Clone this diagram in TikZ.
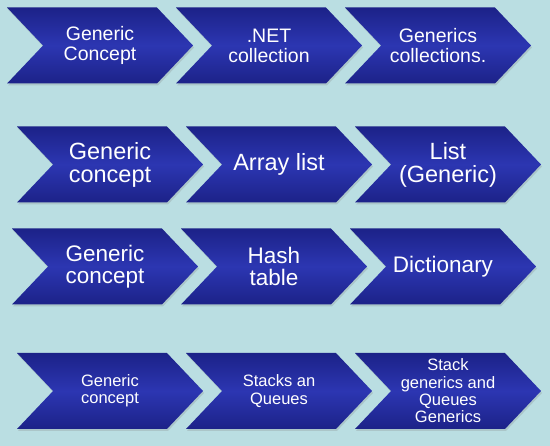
\documentclass[tikz,border=0pt]{standalone}
\usepackage{fontspec}
\setmainfont{Liberation Sans}
\usetikzlibrary{shapes.symbols,shadows}

\definecolor{bgcyan}{RGB}{186,222,226}
\definecolor{chevdark}{RGB}{28,34,136}
\definecolor{chevlight}{RGB}{44,54,178}

\begin{document}
\begin{tikzpicture}[x=1pt,y=-1pt,
    chev/.style={signal, signal to=east, signal from=west, signal pointer angle=93,
        minimum width=186pt, minimum height=76pt, inner sep=0pt,
        top color=chevdark, bottom color=chevdark, middle color=chevlight,
        text=white, align=center,
        drop shadow={opacity=0.25, shadow xshift=1pt, shadow yshift=-2pt}},
    rowa/.style={font=\fontsize{19.5}{20}\selectfont},
    rowb/.style={font=\fontsize{23.5}{23}\selectfont},
    rowc/.style={font=\fontsize{22.5}{22}\selectfont},
    rowd/.style={font=\fontsize{16.5}{17.3}\selectfont}
]
    \fill[bgcyan] (0,0) rectangle (550,446);
    \useasboundingbox (0,0) rectangle (550,446);

    % row 1
    \node[chev, rowa] (conA) at (100,45.5) {Generic\\Concept};
    \node[chev, rowa] (netA) at (269,45.5) {.NET\\collection};
    \node[chev, rowa] (genA) at (438,45.5) {Generics\\collections.};

    % row 2
    \node[chev, rowb] (conB) at (110,164.5) {Generic\\concept};
    \node[chev, rowb] (arrB) at (279,164.5) {Array list};
    \node[chev, rowb] (lstB) at (448,164.5) {List\\(Generic)};

    % row 3
    \node[chev, rowc] (conC) at (105,266.5) {Generic\\concept};
    \node[chev, rowc] (hshC) at (274,266.5) {Hash\\table};
    \node[chev, rowc] (dicC) at (443,266.5) {Dictionary};

    % row 4
    \node[chev, rowd] (conD) at (110,391) {Generic\\concept};
    \node[chev, rowd] (stkD) at (279,391) {Stacks an\\Queues};
    \node[chev, rowd] (sqgD) at (448,391) {Stack\\generics and\\Queues\\Generics};
\end{tikzpicture}
\end{document}
